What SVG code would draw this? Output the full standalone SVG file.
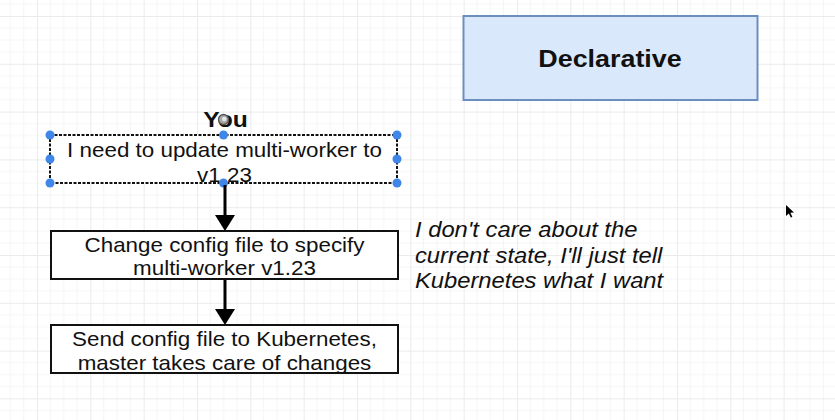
<svg xmlns="http://www.w3.org/2000/svg" width="835" height="420" viewBox="0 0 835 420">
  <style>
    .t { font-family: "Liberation Sans", Arial, sans-serif; font-size: 20px; fill: #111; text-anchor: middle; }
    .b { font-weight: bold; }
    .it { font-family: "Liberation Sans", Arial, sans-serif; font-size: 21.3px; font-style: italic; fill: #111; }
    .box { fill: #ffffff; stroke: #111; stroke-width: 2; }
    .sel { fill: #ffffff; stroke: #111; stroke-width: 2; stroke-dasharray: 3 1.5; }
    .h { fill: #3f86e8; }
    .conn { stroke: #000; stroke-width: 3; fill: none; }
    .minor { stroke: #f5f5f5; stroke-width: 1; }
    .major { stroke: #ebebeb; stroke-width: 1; }
  </style>
  <defs>
    <pattern id="grid" patternUnits="userSpaceOnUse" x="37" y="16" width="53.33" height="47.8">
      <line class="minor" x1="13.33" y1="0" x2="13.33" y2="47.8"/>
      <line class="minor" x1="26.67" y1="0" x2="26.67" y2="47.8"/>
      <line class="minor" x1="40" y1="0" x2="40" y2="47.8"/>
      <line class="minor" x1="0" y1="11.95" x2="53.33" y2="11.95"/>
      <line class="minor" x1="0" y1="23.9" x2="53.33" y2="23.9"/>
      <line class="minor" x1="0" y1="35.85" x2="53.33" y2="35.85"/>
      <line class="major" x1="0.5" y1="0" x2="0.5" y2="47.8"/>
      <line class="major" x1="0" y1="0.5" x2="53.33" y2="0.5"/>
    </pattern>
    <marker id="ah" markerUnits="userSpaceOnUse" markerWidth="20" markerHeight="20" refX="2" refY="10" orient="auto">
      <path d="M0,0 L16,10 L0,20 z" fill="#000"/>
    </marker>
  </defs>
  <rect width="835" height="420" fill="#ffffff"/>
  <rect width="835" height="420" fill="url(#grid)"/>

  <g id="declarative">
    <rect x="463.5" y="16" width="294" height="84" fill="#dae8fc" stroke="#6c8ebf" stroke-width="2"/>
    <text class="t b" style="font-size:24px" transform="translate(610,67) scale(1.12,1)">Declarative</text>
  </g>

  <g id="you">
    <text class="t b" style="font-size:22px" transform="translate(225.5,127) scale(1.12,1)">You</text>
    <circle cx="223.5" cy="119.5" r="5" fill="#a8a8a8" stroke="#555" stroke-width="1.3"/>
    <circle cx="224.3" cy="119" r="2.3" fill="#e6e6e6"/>
  </g>

  <g id="step1">
    <rect class="sel" x="50" y="135" width="347" height="48"/>
    <text class="t" transform="translate(224.5,157) scale(1.12,1)">I need to update multi-worker to</text>
    <text class="t" transform="translate(224.5,181.5) scale(1.12,1)">v1.23</text>
    <circle class="h" cx="50" cy="135" r="4.5"/>
    <circle class="h" cx="223.5" cy="135" r="4.5"/>
    <circle class="h" cx="397" cy="135" r="4.5"/>
    <circle class="h" cx="50" cy="159" r="4.5"/>
    <circle class="h" cx="397" cy="159" r="4.5"/>
    <circle class="h" cx="50" cy="183" r="4.5"/>
    <circle class="h" cx="223.5" cy="183" r="4.5"/>
    <circle class="h" cx="397" cy="183" r="4.5"/>
  </g>

  <g id="step2">
    <rect class="box" x="51" y="231" width="347" height="48"/>
    <text class="t" transform="translate(224.5,252) scale(1.12,1)">Change config file to specify</text>
    <text class="t" transform="translate(224.5,275) scale(1.12,1)">multi-worker v1.23</text>
  </g>

  <g id="step3">
    <rect class="box" x="51" y="325" width="347" height="48"/>
    <text class="t" transform="translate(224.5,346) scale(1.12,1)">Send config file to Kubernetes,</text>
    <text class="t" transform="translate(224.5,369.5) scale(1.12,1)">master takes care of changes</text>
  </g>

  <g id="note">
    <text class="it" transform="translate(415,237) scale(1.116,1)">I don't care about the</text>
    <text class="it" transform="translate(415,262.5) scale(1.116,1)">current state, I'll just tell</text>
    <text class="it" transform="translate(415,288) scale(1.116,1)">Kubernetes what I want</text>
  </g>

  <g id="connectors">
    <path class="conn" d="M225,185 L225,217" marker-end="url(#ah)"/>
    <path class="conn" d="M225,280 L225,311" marker-end="url(#ah)"/>
  </g>

  <path d="M786,205 L786,216 L788.8,213.4 L790.8,217.6 L792.4,216.9 L790.4,212.7 L794,212.5 Z" fill="#000"/>
</svg>
